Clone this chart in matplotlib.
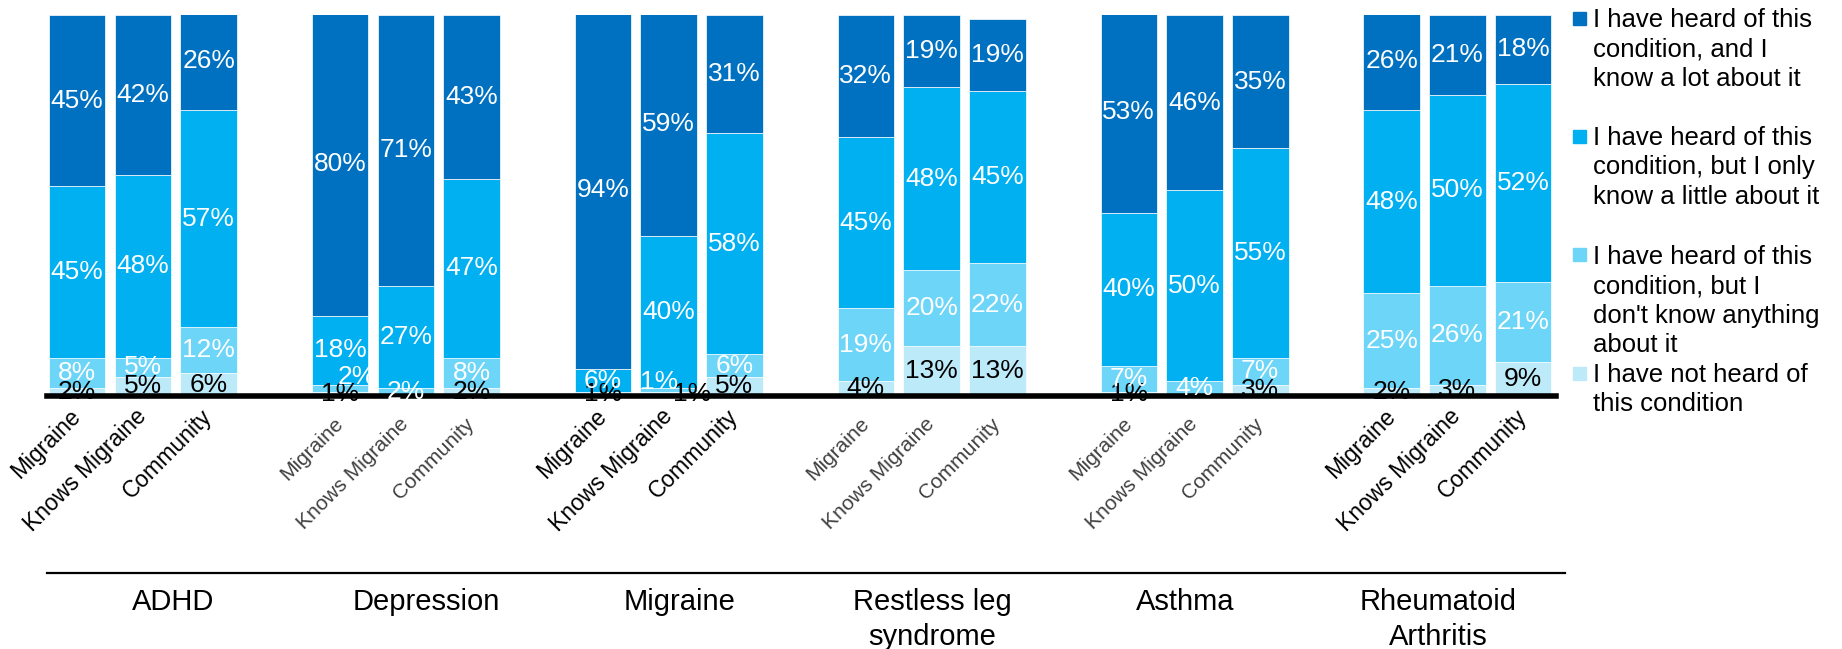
import matplotlib.pyplot as plt
from matplotlib.patches import Rectangle

plt.rcParams['font.family'] = ['Liberation Sans', 'DejaVu Sans']

groups = ["ADHD", "Depression", "Migraine", "Restless leg\nsyndrome", "Asthma", "Rheumatoid\nArthritis"]
samples = ["Migraine", "Knows Migraine", "Community"]

# percentages per group, in order Migraine / Knows Migraine / Community
not_heard = [[2, 5, 6], [1, 0, 2], [1, 1, 5], [4, 13, 13], [1, 0, 3], [2, 3, 9]]
know_nothing = [[8, 5, 12], [2, 2, 8], [0, 1, 6], [19, 20, 22], [7, 4, 7], [25, 26, 21]]
know_little = [[45, 48, 57], [18, 27, 47], [6, 40, 58], [45, 48, 45], [40, 50, 55], [48, 50, 52]]
know_lot = [[45, 42, 26], [80, 71, 43], [94, 59, 31], [32, 19, 19], [53, 46, 35], [26, 21, 18]]

legend_labels = [
    "I have heard of this\ncondition, and I\nknow a lot about it",
    "I have heard of this\ncondition, but I only\nknow a little about it",
    "I have heard of this\ncondition, but I\ndon't know anything\nabout it",
    "I have not heard of\nthis condition",
]

# bottom -> top
series = [not_heard, know_nothing, know_little, know_lot]
colors = ['#BDEAF9', '#6DD5F7', '#00B0F0', '#0070C0']
text_colors = ['black', 'white', 'white', 'white']

# hand-moved labels in the original (group, bar, series) -> offset in points
nudges = {(1, 0, 1): (12, 8), (2, 1, 1): (-7, 6), (2, 1, 0): (17, 0)}

W, H = 1842, 649
fig = plt.figure(figsize=(W / 100, H / 100), dpi=100)
ax = fig.add_axes([47 / W, 1 - 396 / H, 1509 / W, 381 / H])

positions = []
for g in range(len(groups)):
    for b in range(len(samples)):
        x = 4 * g + b
        positions.append(x)
        bottom = 0
        for s in range(len(series)):
            v = series[s][g][b]
            ax.bar(x, v, bottom=bottom, width=0.86, color=colors[s],
                   edgecolor='white', linewidth=0.5)
            if v > 0:
                dx, dy = nudges.get((g, b, s), (0, 0))
                ax.annotate(f"{v}%", (x, bottom + v / 2), xytext=(dx, dy),
                            textcoords='offset points', ha='center', va='center',
                            fontsize=19, color=text_colors[s], zorder=5)
            bottom += v

ax.set_xlim(-0.46, 22.5)
ax.set_ylim(0, 100)
ax.set_yticks([])
for side in ['top', 'right', 'left']:
    ax.spines[side].set_visible(False)
ax.spines['bottom'].set_linewidth(4)
ax.spines['bottom'].set_color('black')

ax.set_xticks(positions)
ax.set_xticklabels(samples * len(groups), rotation=45, ha='right', va='center',
                   rotation_mode='anchor')
ax.tick_params(axis='x', length=0, pad=12)
grey_groups = [1, 3, 4]
ticks = ax.xaxis.get_major_ticks()
for i, lab in enumerate(ax.get_xticklabels()):
    if i // 3 in grey_groups:
        lab.set_fontsize(15)
        lab.set_color('#404040')
        ticks[i].set_pad(18)
    else:
        lab.set_fontsize(16.5)

# group names under a thin rule
ax2 = fig.add_axes([47 / W, 0, 1518 / W, 1 - 573 / H])
ax2.set_xlim(0, len(groups))
ax2.set_ylim(0, 1)
ax2.set_xticks([])
ax2.set_yticks([])
for side in ['bottom', 'right', 'left']:
    ax2.spines[side].set_visible(False)
ax2.spines['top'].set_linewidth(1.6)
ax2.patch.set_visible(False)
for g, name in enumerate(groups):
    ax2.text(g + 0.5, 0.80, name, ha='center', va='top', fontsize=21,
             linespacing=1.3, multialignment='center')

# legend drawn by hand so the marker sits at the first line
legend_tops = [8, 126, 245, 363]
marker_tops = [12, 130, 248, 367]
for s in range(3, -1, -1):
    k = 3 - s
    fig.patches.append(Rectangle((1573 / W, 1 - (marker_tops[k] + 13) / H), 13 / W, 13 / H,
                                 transform=fig.transFigure, color=colors[s]))
    fig.text(1593 / W, 1 - legend_tops[k] / H, legend_labels[k], ha='left', va='top',
             fontsize=18.5, linespacing=1.28)

fig.savefig('out.png', dpi=100)
